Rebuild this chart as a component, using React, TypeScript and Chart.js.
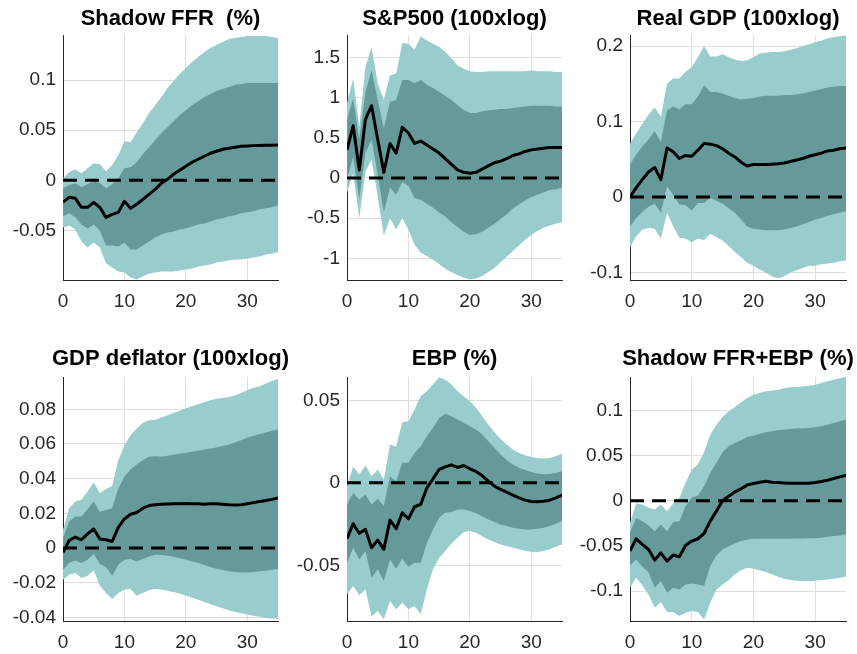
import React, { useEffect, useRef } from "react";
import { Chart, registerables } from "chart.js";

Chart.register(...registerables);

// ---------- data ----------
const horizon = [0, 1, 2, 3, 4, 5, 6, 7, 8, 9, 10, 11, 12, 13, 14, 15, 16, 17, 18, 19, 20, 21, 22, 23, 24, 25, 26, 27, 28, 29, 30, 31, 32, 33, 34, 35];
const xTickStep = 10;

// Shadow FFR (%)
const ffrMedian = [-0.0217, -0.017, -0.018, -0.027, -0.027, -0.022, -0.027, -0.037, -0.034, -0.032, -0.021, -0.028, -0.024, -0.019, -0.014, -0.009, -0.003, 0.001, 0.006, 0.01, 0.014, 0.018, 0.021, 0.024, 0.027, 0.029, 0.031, 0.032, 0.033, 0.034, 0.0343, 0.0346, 0.0348, 0.035, 0.035, 0.0352];
const ffrOuterHigh = [0.002, 0.008, 0.011, 0.007, 0.012, 0.017, 0.016, 0.009, 0.015, 0.025, 0.039, 0.038, 0.048, 0.057, 0.067, 0.075, 0.083, 0.092, 0.099, 0.106, 0.112, 0.118, 0.123, 0.128, 0.132, 0.135, 0.138, 0.141, 0.142, 0.143, 0.144, 0.144, 0.144, 0.144, 0.143, 0.142];
const ffrInnerHigh = [-0.008, -0.005, -0.003, -0.007, -0.004, 0, -0.003, -0.008, -0.004, 0.002, 0.012, 0.013, 0.018, 0.026, 0.033, 0.04, 0.047, 0.053, 0.059, 0.065, 0.07, 0.075, 0.079, 0.083, 0.086, 0.089, 0.091, 0.093, 0.095, 0.096, 0.097, 0.097, 0.097, 0.097, 0.097, 0.097];
const ffrInnerLow = [-0.036, -0.033, -0.037, -0.044, -0.048, -0.044, -0.05, -0.065, -0.065, -0.066, -0.062, -0.069, -0.069, -0.065, -0.061, -0.057, -0.054, -0.052, -0.051, -0.049, -0.048, -0.046, -0.044, -0.043, -0.041, -0.039, -0.038, -0.036, -0.035, -0.033, -0.032, -0.031, -0.029, -0.028, -0.027, -0.025];
const ffrOuterLow = [-0.047, -0.045, -0.049, -0.061, -0.067, -0.062, -0.067, -0.083, -0.087, -0.091, -0.092, -0.097, -0.099, -0.096, -0.093, -0.092, -0.091, -0.091, -0.091, -0.09, -0.089, -0.088, -0.086, -0.085, -0.084, -0.082, -0.081, -0.08, -0.079, -0.079, -0.078, -0.077, -0.076, -0.074, -0.073, -0.072];

// S&P500 (100xlog)
const spxMedian = [0.35, 0.65, 0.1, 0.73, 0.9, 0.48, 0.07, 0.43, 0.31, 0.63, 0.56, 0.43, 0.46, 0.41, 0.36, 0.31, 0.24, 0.17, 0.1, 0.07, 0.06, 0.07, 0.11, 0.15, 0.19, 0.21, 0.24, 0.28, 0.3, 0.33, 0.35, 0.36, 0.37, 0.38, 0.38, 0.38];
const spxOuterHigh = [0.93, 1.24, 0.64, 1.38, 1.63, 1.18, 0.97, 1.28, 1.3, 1.68, 1.67, 1.6, 1.76, 1.71, 1.67, 1.63, 1.57, 1.49, 1.4, 1.36, 1.33, 1.32, 1.32, 1.33, 1.33, 1.33, 1.33, 1.33, 1.33, 1.33, 1.34, 1.33, 1.33, 1.33, 1.32, 1.32];
const spxInnerHigh = [0.72, 0.99, 0.48, 1.07, 1.34, 0.97, 0.62, 0.95, 0.97, 1.22, 1.22, 1.18, 1.22, 1.16, 1.12, 1.07, 1.02, 0.97, 0.91, 0.85, 0.81, 0.81, 0.83, 0.84, 0.85, 0.86, 0.86, 0.87, 0.88, 0.89, 0.9, 0.9, 0.9, 0.9, 0.89, 0.89];
const spxInnerLow = [-0.02, 0.27, -0.27, 0.31, 0.48, 0.04, -0.43, -0.12, -0.21, -0.05, -0.1, -0.25, -0.27, -0.32, -0.37, -0.43, -0.48, -0.55, -0.61, -0.67, -0.71, -0.7, -0.67, -0.62, -0.57, -0.51, -0.45, -0.38, -0.33, -0.28, -0.24, -0.21, -0.18, -0.15, -0.14, -0.12];
const spxOuterLow = [-0.18, 0.06, -0.5, 0.08, 0.23, -0.23, -0.72, -0.5, -0.64, -0.5, -0.64, -0.83, -0.93, -0.97, -1.02, -1.07, -1.13, -1.17, -1.21, -1.24, -1.26, -1.25, -1.22, -1.17, -1.12, -1.05, -0.98, -0.91, -0.84, -0.77, -0.71, -0.66, -0.62, -0.59, -0.57, -0.55];

// Real GDP (100xlog)
const gdpMedian = [0, 0.012, 0.023, 0.033, 0.039, 0.023, 0.065, 0.06, 0.051, 0.055, 0.054, 0.062, 0.071, 0.07, 0.068, 0.064, 0.058, 0.053, 0.046, 0.041, 0.043, 0.043, 0.043, 0.0435, 0.044, 0.045, 0.047, 0.049, 0.051, 0.054, 0.056, 0.058, 0.061, 0.062, 0.064, 0.065];
const gdpOuterHigh = [0.071, 0.084, 0.097, 0.109, 0.119, 0.106, 0.15, 0.157, 0.157, 0.166, 0.172, 0.185, 0.2, 0.186, 0.186, 0.189, 0.185, 0.182, 0.18, 0.181, 0.185, 0.19, 0.191, 0.192, 0.192, 0.193, 0.195, 0.197, 0.2, 0.202, 0.205, 0.207, 0.21, 0.212, 0.213, 0.214];
const gdpInnerHigh = [0.043, 0.056, 0.067, 0.076, 0.087, 0.073, 0.115, 0.12, 0.116, 0.123, 0.123, 0.133, 0.148, 0.139, 0.139, 0.137, 0.134, 0.131, 0.129, 0.13, 0.131, 0.133, 0.134, 0.134, 0.134, 0.135, 0.135, 0.136, 0.137, 0.139, 0.141, 0.143, 0.145, 0.146, 0.147, 0.147];
const gdpInnerLow = [-0.039, -0.028, -0.02, -0.013, -0.009, -0.021, 0.014, 0.003, -0.01, -0.011, -0.018, -0.008, -0.008, -0.001, -0.005, -0.009, -0.015, -0.021, -0.03, -0.039, -0.042, -0.043, -0.044, -0.044, -0.044, -0.043, -0.041, -0.039, -0.036, -0.033, -0.03, -0.028, -0.025, -0.023, -0.021, -0.019];
const gdpOuterLow = [-0.067, -0.052, -0.043, -0.041, -0.042, -0.055, -0.021, -0.039, -0.054, -0.055, -0.06, -0.055, -0.057, -0.049, -0.053, -0.058, -0.065, -0.073, -0.08, -0.087, -0.091, -0.096, -0.1, -0.105, -0.108, -0.105, -0.1, -0.097, -0.094, -0.091, -0.091, -0.089, -0.088, -0.087, -0.085, -0.084];

// GDP deflator (100xlog)
const deflMedian = [-0.0025, 0.0044, 0.0063, 0.0048, 0.0082, 0.011, 0.0052, 0.0048, 0.0038, 0.012, 0.0168, 0.0195, 0.0205, 0.023, 0.0245, 0.025, 0.0253, 0.0254, 0.0255, 0.0256, 0.0257, 0.0256, 0.0255, 0.0253, 0.0255, 0.0255, 0.0253, 0.025, 0.0249, 0.025, 0.0256, 0.0262, 0.0268, 0.0274, 0.0281, 0.0289];
const deflOuterHigh = [0.0105, 0.023, 0.0268, 0.0278, 0.0325, 0.038, 0.0316, 0.034, 0.0358, 0.0507, 0.0593, 0.065, 0.0689, 0.0722, 0.0737, 0.074, 0.0752, 0.0766, 0.0779, 0.0792, 0.0806, 0.0817, 0.0829, 0.084, 0.0852, 0.0861, 0.0865, 0.0871, 0.088, 0.0894, 0.0909, 0.0924, 0.0932, 0.0947, 0.0963, 0.0976];
const deflInnerHigh = [0.0057, 0.0153, 0.0182, 0.0182, 0.0224, 0.0268, 0.021, 0.022, 0.023, 0.0344, 0.0411, 0.0454, 0.0482, 0.0507, 0.0526, 0.053, 0.0526, 0.0532, 0.0538, 0.0544, 0.0549, 0.0555, 0.0561, 0.0568, 0.0574, 0.058, 0.0588, 0.0597, 0.0609, 0.0622, 0.0637, 0.0647, 0.0656, 0.0666, 0.0676, 0.0683];
const deflInnerLow = [-0.0124, -0.0086, -0.0071, -0.0086, -0.0067, -0.0033, -0.0092, -0.0109, -0.0159, -0.0096, -0.0067, -0.0063, -0.0077, -0.0063, -0.0048, -0.0038, -0.004, -0.0044, -0.005, -0.0057, -0.0067, -0.0077, -0.0086, -0.0098, -0.0109, -0.0119, -0.0126, -0.0134, -0.0138, -0.014, -0.014, -0.0138, -0.0134, -0.013, -0.0124, -0.0121];
const deflOuterLow = [-0.0182, -0.0153, -0.0144, -0.0172, -0.0159, -0.0128, -0.0216, -0.0258, -0.0293, -0.0258, -0.0239, -0.0235, -0.0274, -0.0258, -0.0243, -0.0235, -0.0239, -0.0245, -0.0253, -0.0262, -0.0274, -0.0285, -0.0297, -0.031, -0.0323, -0.0335, -0.0346, -0.0358, -0.0367, -0.0375, -0.0383, -0.039, -0.0396, -0.0402, -0.0406, -0.0408];

// EBP (%)
const ebpMedian = [-0.0339, -0.0248, -0.0306, -0.0282, -0.0393, -0.0347, -0.0403, -0.0226, -0.0278, -0.0181, -0.0218, -0.0145, -0.0131, -0.003, 0.0024, 0.0081, 0.0097, 0.0109, 0.0093, 0.0105, 0.0085, 0.0069, 0.0044, 0.001, -0.002, -0.004, -0.0056, -0.0075, -0.0091, -0.0105, -0.0113, -0.0115, -0.0111, -0.0105, -0.0091, -0.0075];
const ebpOuterHigh = [-0.002, 0.0097, 0.005, 0.0105, 0.004, 0.0081, 0.002, 0.0232, 0.0218, 0.0367, 0.0373, 0.0444, 0.0524, 0.0554, 0.0595, 0.0639, 0.0625, 0.0595, 0.0554, 0.0524, 0.0494, 0.0454, 0.0403, 0.0353, 0.0306, 0.0266, 0.0232, 0.0202, 0.0181, 0.0167, 0.0157, 0.0149, 0.0147, 0.0151, 0.0161, 0.0177];
const ebpInnerHigh = [-0.0131, -0.006, -0.0101, -0.0071, -0.0131, -0.0097, -0.0141, 0.004, 0.001, 0.0121, 0.0121, 0.0181, 0.0222, 0.0282, 0.0333, 0.0393, 0.0419, 0.0403, 0.0383, 0.0363, 0.0343, 0.0323, 0.0292, 0.0252, 0.0212, 0.0171, 0.0137, 0.0111, 0.0091, 0.0077, 0.0065, 0.0056, 0.0052, 0.0054, 0.006, 0.0071];
const ebpInnerLow = [-0.0484, -0.0393, -0.0464, -0.0413, -0.0575, -0.0524, -0.0595, -0.0464, -0.052, -0.046, -0.0508, -0.0484, -0.0484, -0.0363, -0.0282, -0.0212, -0.0181, -0.0177, -0.0161, -0.0161, -0.0171, -0.0185, -0.0202, -0.0222, -0.0238, -0.0252, -0.0262, -0.0272, -0.0278, -0.0282, -0.0282, -0.0278, -0.0272, -0.0262, -0.0248, -0.0232];
const ebpOuterLow = [-0.0675, -0.0625, -0.0681, -0.0645, -0.081, -0.0776, -0.0827, -0.0716, -0.0766, -0.0726, -0.0766, -0.0746, -0.0796, -0.0645, -0.0524, -0.0454, -0.0413, -0.0367, -0.0333, -0.0298, -0.0292, -0.0302, -0.0323, -0.0343, -0.0359, -0.0373, -0.0383, -0.0393, -0.0403, -0.0411, -0.0417, -0.0419, -0.0413, -0.0403, -0.0387, -0.0373];

// Shadow FFR+EBP (%)
const sumMedian = [-0.0557, -0.042, -0.0483, -0.0539, -0.0657, -0.0576, -0.0668, -0.0601, -0.062, -0.0494, -0.0446, -0.042, -0.0362, -0.0225, -0.0114, 0.0004, 0.0052, 0.01, 0.0133, 0.0177, 0.0192, 0.0207, 0.0218, 0.0207, 0.0203, 0.0199, 0.0196, 0.0196, 0.0196, 0.0196, 0.0203, 0.0214, 0.0229, 0.0247, 0.0266, 0.028];
const sumOuterHigh = [-0.0244, -0.003, -0.004, -0.0077, -0.0096, -0.004, -0.0114, -0.003, 0.0033, 0.0199, 0.0347, 0.0402, 0.0539, 0.0734, 0.0845, 0.093, 0.0993, 0.1041, 0.1092, 0.114, 0.1177, 0.1196, 0.1214, 0.1221, 0.1232, 0.1247, 0.1258, 0.1262, 0.1269, 0.1277, 0.1288, 0.1306, 0.1325, 0.1343, 0.1358, 0.1373];
const sumInnerHigh = [-0.0354, -0.0188, -0.0225, -0.0273, -0.0336, -0.0262, -0.0336, -0.0236, -0.0225, -0.0059, 0.0033, 0.0059, 0.0162, 0.031, 0.0421, 0.0539, 0.0605, 0.0642, 0.0672, 0.0708, 0.0723, 0.0742, 0.076, 0.0771, 0.0782, 0.079, 0.0797, 0.0801, 0.0804, 0.0808, 0.0815, 0.0827, 0.0845, 0.0863, 0.0882, 0.09];
const sumInnerLow = [-0.0716, -0.0649, -0.0731, -0.079, -0.0963, -0.0889, -0.1018, -0.0963, -0.0982, -0.0926, -0.0915, -0.0926, -0.0945, -0.0723, -0.0605, -0.0539, -0.0502, -0.0472, -0.0446, -0.0428, -0.0421, -0.042, -0.042, -0.042, -0.042, -0.042, -0.042, -0.0418, -0.0417, -0.0416, -0.0415, -0.041, -0.0399, -0.0391, -0.0384, -0.0373];
const sumOuterLow = [-0.0963, -0.0852, -0.0937, -0.1037, -0.1185, -0.1122, -0.1232, -0.1232, -0.1277, -0.124, -0.1221, -0.1232, -0.1314, -0.1129, -0.0982, -0.0926, -0.0878, -0.0815, -0.0768, -0.0742, -0.0753, -0.0768, -0.079, -0.0815, -0.0841, -0.0863, -0.0878, -0.0886, -0.0889, -0.0889, -0.0886, -0.0878, -0.0871, -0.0863, -0.0852, -0.0841];

const titles = ["Shadow FFR  (%)", "S&P500 (100xlog)", "Real GDP (100xlog)", "GDP deflator (100xlog)", "EBP (%)", "Shadow FFR+EBP (%)"];
const yMins = [-0.0995, -1.27, -0.11, -0.042, -0.0837, -0.1332];
const yMaxs = [0.145, 1.78, 0.2146, 0.0986, 0.0641, 0.1373];
const yTickSteps = [0.05, 0.5, 0.1, 0.02, 0.05, 0.05];

const panelSeries = [
  { median: ffrMedian, innerHigh: ffrInnerHigh, innerLow: ffrInnerLow, outerHigh: ffrOuterHigh, outerLow: ffrOuterLow },
  { median: spxMedian, innerHigh: spxInnerHigh, innerLow: spxInnerLow, outerHigh: spxOuterHigh, outerLow: spxOuterLow },
  { median: gdpMedian, innerHigh: gdpInnerHigh, innerLow: gdpInnerLow, outerHigh: gdpOuterHigh, outerLow: gdpOuterLow },
  { median: deflMedian, innerHigh: deflInnerHigh, innerLow: deflInnerLow, outerHigh: deflOuterHigh, outerLow: deflOuterLow },
  { median: ebpMedian, innerHigh: ebpInnerHigh, innerLow: ebpInnerLow, outerHigh: ebpOuterHigh, outerLow: ebpOuterLow },
  { median: sumMedian, innerHigh: sumInnerHigh, innerLow: sumInnerLow, outerHigh: sumOuterHigh, outerLow: sumOuterLow },
];

// ---------- styling / layout ----------
const FONT = "'Liberation Sans', Arial, Helvetica, sans-serif";
const OUTER = "rgb(153, 204, 204)";
const INNER = "rgb(102, 153, 153)";
const AXIS = "#262626";
const GRID = "#dfdfdf";

const COLS = [
  { left: 0, yw: 63, plotW: 215 },
  { left: 290, yw: 57, plotW: 215 },
  { left: 573, yw: 57, plotW: 216 },
];
const ROWS = [
  { top: 0, titleTop: 5.3, titleBottom: 3.3, titleH: 35, plotH: 245 },
  { top: 330, titleTop: 15.8, titleBottom: 4.8, titleH: 47, plotH: 244 },
];
const X_AXIS_H = 40;

const pts = (vals: number[]) => vals.map((v, i) => ({ x: horizon[i], y: v }));

const fmt = (v: number | string) => String(parseFloat(Number(v).toFixed(5)));

function Panel({ idx }: { idx: number }) {
  const ref = useRef<HTMLCanvasElement>(null);
  const col = COLS[idx % 3];
  const row = ROWS[Math.floor(idx / 3)];
  const width = col.yw * 2 + col.plotW;
  const height = row.titleH + row.plotH + X_AXIS_H;

  useEffect(() => {
    const s = panelSeries[idx];
    const base = { pointRadius: 0, pointHoverRadius: 0, tension: 0 };
    const chart = new Chart(ref.current as HTMLCanvasElement, {
      type: "line",
      data: {
        datasets: [
          { ...base, label: "median", data: pts(s.median), borderColor: "#000", borderWidth: 3, borderJoinStyle: "round", fill: false },
          { ...base, label: "zero", data: pts(horizon.map(() => 0)), borderColor: "#000", borderWidth: 3, borderDash: [14, 8], fill: false },
          { ...base, label: "inner high", data: pts(s.innerHigh), borderWidth: 0, borderColor: "rgba(0,0,0,0)", backgroundColor: INNER, fill: "+1" },
          { ...base, label: "inner low", data: pts(s.innerLow), borderWidth: 0, borderColor: "rgba(0,0,0,0)", fill: false },
          { ...base, label: "outer high", data: pts(s.outerHigh), borderWidth: 0, borderColor: "rgba(0,0,0,0)", backgroundColor: OUTER, fill: "+1" },
          { ...base, label: "outer low", data: pts(s.outerLow), borderWidth: 0, borderColor: "rgba(0,0,0,0)", fill: false },
        ],
      },
      options: {
        animation: false,
        responsive: false,
        devicePixelRatio: 1,
        events: [],
        layout: { padding: 0 },
        plugins: {
          legend: { display: false },
          tooltip: { enabled: false },
          title: {
            display: true,
            text: titles[idx],
            color: "#000",
            font: { family: FONT, size: 22, weight: "bold", lineHeight: 1.2 },
            padding: { top: row.titleTop, bottom: row.titleBottom },
          },
        },
        scales: {
          x: {
            type: "linear",
            min: horizon[0],
            max: horizon[horizon.length - 1],
            afterFit: (sc: any) => { sc.height = X_AXIS_H; },
            grid: { color: GRID, drawTicks: false, lineWidth: 1 },
            border: { color: AXIS, width: 1 },
            ticks: {
              stepSize: xTickStep,
              includeBounds: false,
              autoSkip: false,
              maxRotation: 0,
              padding: 10,
              color: AXIS,
              font: { family: FONT, size: 19, lineHeight: 1.2 },
              callback: (v: any) => fmt(v),
            },
          },
          y: {
            type: "linear",
            min: yMins[idx],
            max: yMaxs[idx],
            afterFit: (sc: any) => { sc.width = col.yw; },
            grid: { color: GRID, drawTicks: false, lineWidth: 1 },
            border: { color: AXIS, width: 1 },
            ticks: {
              stepSize: yTickSteps[idx],
              includeBounds: false,
              autoSkip: false,
              padding: 7,
              color: AXIS,
              font: { family: FONT, size: 19, lineHeight: 1.2 },
              callback: (v: any) => fmt(v),
            },
          },
          yRightSpacer: {
            type: "linear",
            position: "right",
            display: true,
            afterFit: (sc: any) => { sc.width = col.yw; },
            grid: { display: false },
            border: { display: false },
            ticks: { display: false },
          },
        },
      } as any,
    });
    return () => chart.destroy();
  }, [idx]);

  return (
    <canvas
      ref={ref}
      width={width}
      height={height}
      style={{ position: "absolute", left: col.left, top: row.top, width, height }}
    />
  );
}

export default function App() {
  return (
    <div
      style={{
        position: "absolute",
        left: 0,
        top: 0,
        width: 857,
        height: 654,
        overflow: "hidden",
        background: "#fff",
      }}
    >
      {[0, 1, 2, 3, 4, 5].map((i) => (
        <Panel key={i} idx={i} />
      ))}
    </div>
  );
}
